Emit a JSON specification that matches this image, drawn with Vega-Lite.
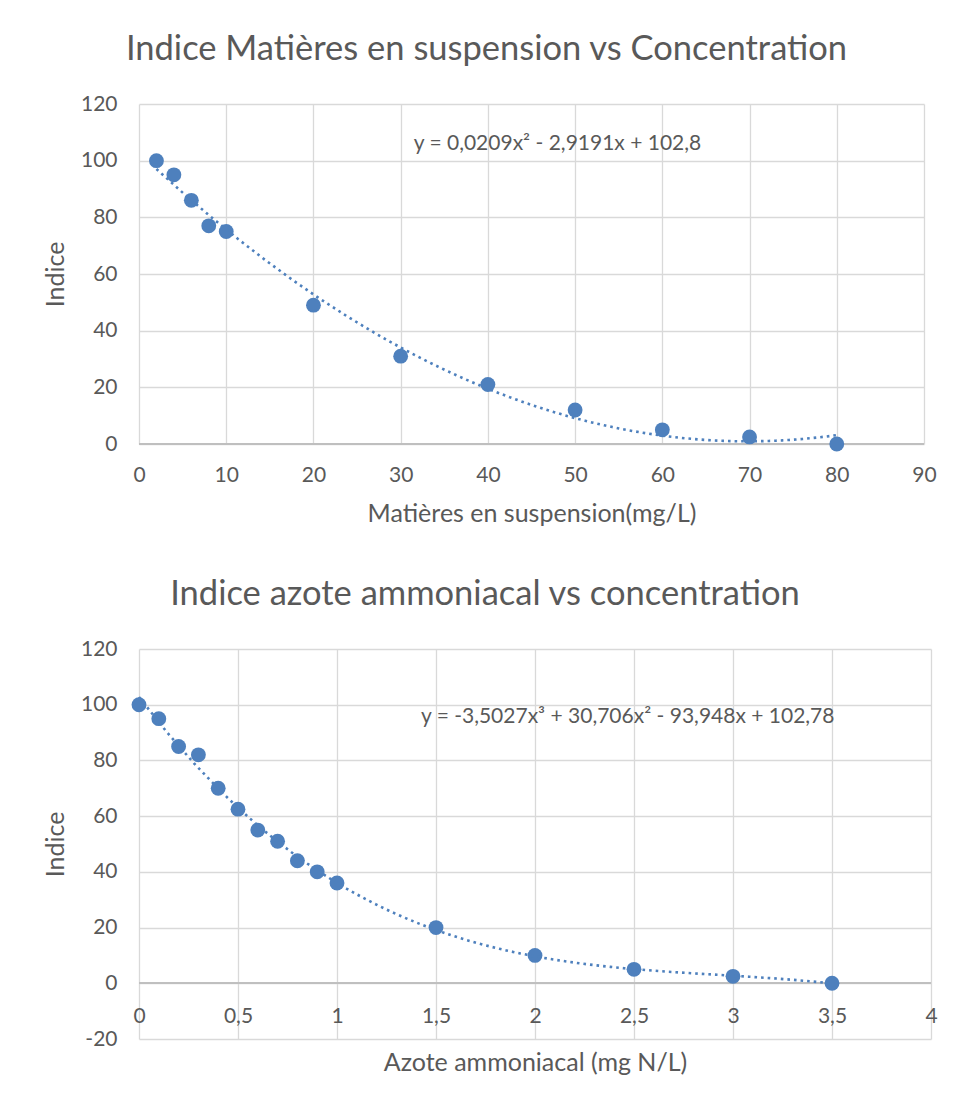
{
  "$schema": "https://vega.github.io/schema/vega-lite/v6.json",
  "background": "white",
  "padding": {"left": 43, "top": 31, "right": 5, "bottom": 5},
  "spacing": 50,
  "config": {
    "font": "Lato",
    "locale": {"number": {"decimal": ",", "thousands": " ", "grouping": [3], "currency": ["", " €"], "minus": "-"}},
    "view": {"stroke": null},
    "axis": {
      "labelColor": "#595959", "titleColor": "#595959",
      "labelFontSize": 21, "titleFontSize": 25, "titleFontWeight": "normal",
      "gridColor": "#d9d9d9", "gridWidth": 1.3, "ticks": false, "domain": false
    },
    "axisX": {"labelPadding": 20, "titlePadding": 16, "labelFlush": false},
    "axisY": {"labelPadding": 22, "titlePadding": 12},
    "title": {"color": "#595959", "fontSize": 34.5, "fontWeight": "normal", "offset": 26}
  },
  "vconcat": [
    {
      "title": {"text": "Indice Matières en suspension vs Concentration", "dx": -45},
      "width": 785,
      "height": 340,
      "data": {"values": [
        {"x": 2, "y": 100}, {"x": 4, "y": 95}, {"x": 6, "y": 86}, {"x": 8, "y": 77},
        {"x": 10, "y": 75}, {"x": 20, "y": 49}, {"x": 30, "y": 31}, {"x": 40, "y": 21},
        {"x": 50, "y": 12}, {"x": 60, "y": 5}, {"x": 70, "y": 2.5}, {"x": 80, "y": 0}
      ]},
      "encoding": {
        "x": {"field": "x", "type": "quantitative", "scale": {"domain": [0, 90], "nice": false},
              "axis": {"values": [0, 10, 20, 30, 40, 50, 60, 70, 80, 90], "title": "Matières en suspension(mg/L)"}},
        "y": {"field": "y", "type": "quantitative", "scale": {"domain": [0, 120], "nice": false},
              "axis": {"values": [0, 20, 40, 60, 80, 100, 120], "title": "Indice"}}
      },
      "layer": [
        {"mark": {"type": "rule", "color": "#bfbfbf", "strokeWidth": 1.5}, "encoding": {"x": null, "y": {"datum": 0}}},
        {"mark": {"type": "circle", "color": "#4E80BD", "size": 220, "opacity": 1}},
        {"transform": [{"regression": "y", "on": "x", "method": "poly", "order": 2}],
         "mark": {"type": "line", "color": "#4E80BD", "strokeWidth": 2.6, "strokeDash": [2.6, 4]}},
        {"data": {"values": [{"x": 31.5, "y": 106, "label": "y = 0,0209x² - 2,9191x + 102,8"}]},
         "mark": {"type": "text", "align": "left", "baseline": "middle", "fontSize": 21, "color": "#595959"},
         "encoding": {"text": {"field": "label"}}}
      ]
    },
    {
      "title": {"text": "Indice azote ammoniacal vs concentration", "dx": -50},
      "width": 792,
      "height": 390,
      "data": {"values": [
        {"x": 0, "y": 100}, {"x": 0.1, "y": 95}, {"x": 0.2, "y": 85}, {"x": 0.3, "y": 82},
        {"x": 0.4, "y": 70}, {"x": 0.5, "y": 62.5}, {"x": 0.6, "y": 55}, {"x": 0.7, "y": 51},
        {"x": 0.8, "y": 44}, {"x": 0.9, "y": 40}, {"x": 1.0, "y": 36}, {"x": 1.5, "y": 20},
        {"x": 2, "y": 10}, {"x": 2.5, "y": 5}, {"x": 3, "y": 2.5}, {"x": 3.5, "y": 0}
      ]},
      "encoding": {
        "x": {"field": "x", "type": "quantitative", "scale": {"domain": [0, 4], "nice": false},
              "axis": {"values": [0, 0.5, 1, 1.5, 2, 2.5, 3, 3.5, 4], "labelExpr": "replace(datum.value + '', '.', ',')", "title": "Azote ammoniacal (mg N/L)", "offset": -55.7, "labelPadding": 22, "titlePadding": 24}},
        "y": {"field": "y", "type": "quantitative", "scale": {"domain": [-20, 120], "nice": false},
              "axis": {"values": [-20, 0, 20, 40, 60, 80, 100, 120], "title": "Indice"}}
      },
      "layer": [
        {"mark": {"type": "rule", "color": "#bfbfbf", "strokeWidth": 1.5}, "encoding": {"x": null, "y": {"datum": 0}}},
        {"mark": {"type": "circle", "color": "#4E80BD", "size": 220, "opacity": 1}},
        {"transform": [{"regression": "y", "on": "x", "method": "poly", "order": 3}],
         "mark": {"type": "line", "color": "#4E80BD", "strokeWidth": 2.6, "strokeDash": [2.6, 4]}},
        {"data": {"values": [{"x": 1.424, "y": 95.7, "label": "y = -3,5027x³ + 30,706x² - 93,948x + 102,78"}]},
         "mark": {"type": "text", "align": "left", "baseline": "middle", "fontSize": 21, "color": "#595959"},
         "encoding": {"text": {"field": "label"}}}
      ]
    }
  ]
}
